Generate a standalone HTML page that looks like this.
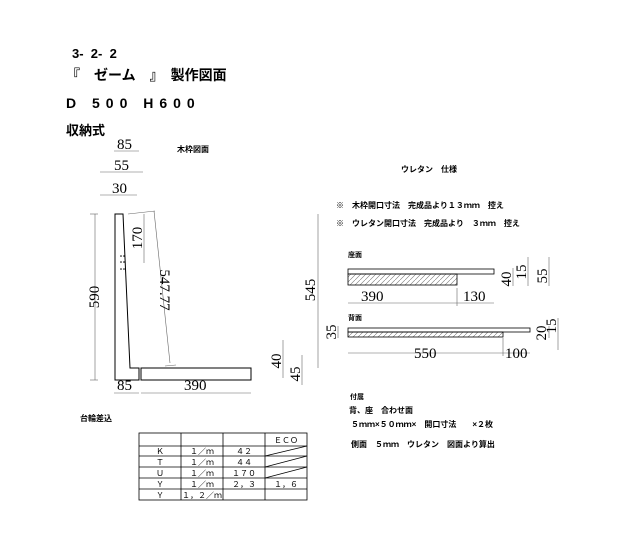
<!DOCTYPE html>
<html><head><meta charset="utf-8"><style>
html,body{margin:0;padding:0;background:#fff;}
svg{display:block;}
.j{font-family:"Liberation Sans","Noto Sans CJK JP",sans-serif;fill:#000;}
.d{font-family:"Liberation Serif",serif;font-size:15px;fill:#000;}
</style></head><body>
<svg width="640" height="553" viewBox="0 0 640 553" xmlns="http://www.w3.org/2000/svg">
<defs><pattern id="h" width="5" height="5" patternUnits="userSpaceOnUse"><path d="M0 5 L5 0" stroke="#777" stroke-width="0.6"/></pattern></defs>
<g class="j" font-weight="bold">
<text x="72" y="58" font-size="13" xml:space="preserve">3-  2-  2</text>
<text x="66" y="80" font-size="14">『　ゼーム　』　製作図面</text>
<text x="66" y="108" font-size="14" letter-spacing="6">D 500 H600</text>
<text x="66" y="135" font-size="13">収納式</text>
<text x="177" y="152" font-size="8">木枠図面</text>
<text x="401" y="172" font-size="8">ウレタン　仕様</text>
<text x="336" y="208" font-size="8">※　木枠開口寸法　完成品より１３ｍｍ　控え</text>
<text x="336" y="226" font-size="8">※　ウレタン開口寸法　完成品より　３ｍｍ　控え</text>
<text x="348" y="257" font-size="7">座面</text>
<text x="348" y="320" font-size="7">背面</text>
<text x="80" y="421" font-size="8">台輪差込</text>
<text x="350" y="399" font-size="7">付属</text>
<text x="349" y="413" font-size="8">背、座　合わせ面</text>
<text x="351" y="427" font-size="8">５ｍｍ×５０ｍｍ×　開口寸法　　×２枚</text>
<text x="351" y="447" font-size="8">側面　５ｍｍ　ウレタン　図面より算出</text>
</g>
<g fill="none" stroke="#000" stroke-width="1">
<path d="M115 214 L123 214 L130 368 L139 368 L139 380 L115 380 Z"/>
<rect x="141" y="368" width="110" height="12"/>
</g>
<g stroke="#666" stroke-width="0.6" fill="none">
<line x1="95" y1="214" x2="95" y2="380"/><line x1="90" y1="214" x2="98" y2="214"/><line x1="90" y1="380" x2="98" y2="380"/>
<line x1="114" y1="151" x2="139" y2="151"/>
<line x1="100" y1="172" x2="143" y2="172"/>
<line x1="100" y1="195" x2="137" y2="195"/>
<line x1="144" y1="214" x2="144" y2="263"/>
<line x1="128" y1="214" x2="155" y2="211"/>
<line x1="154" y1="211" x2="170" y2="363"/>
<line x1="165" y1="366" x2="176" y2="365"/>
<line x1="114" y1="393" x2="139" y2="393"/><line x1="141" y1="393" x2="251" y2="393"/>
<line x1="318" y1="214" x2="318" y2="368"/>
<line x1="283" y1="340" x2="283" y2="378"/>
<line x1="302" y1="355" x2="302" y2="385"/>
<line x1="348" y1="303" x2="494" y2="303"/><line x1="457" y1="288" x2="457" y2="306"/>
<line x1="513" y1="268" x2="513" y2="286"/><line x1="528" y1="257" x2="528" y2="286"/><line x1="549" y1="257" x2="549" y2="286"/>
<line x1="348" y1="353" x2="530" y2="353"/><line x1="503" y1="338" x2="503" y2="356"/>
<line x1="338" y1="326" x2="338" y2="338"/><line x1="549" y1="326" x2="549" y2="338"/><line x1="558" y1="318" x2="558" y2="350"/>
</g>
<g fill="#000">
<circle cx="121" cy="256" r="0.8"/><circle cx="124" cy="256" r="0.8"/><circle cx="121" cy="262" r="0.8"/><circle cx="124" cy="262" r="0.8"/><circle cx="121" cy="269" r="0.8"/><circle cx="124" cy="269" r="0.8"/>
</g>
<g class="d">
<text x="117" y="149">85</text>
<text x="114" y="170">55</text>
<text x="112" y="193">30</text>
<text x="117" y="390">85</text>
<text x="184" y="390">390</text>
<text x="361" y="301">390</text>
<text x="463" y="301">130</text>
<text x="414" y="358">550</text>
<text x="505" y="358">100</text>
<text transform="translate(99,297) rotate(-90)" text-anchor="middle">590</text>
<text transform="translate(142,238) rotate(-90)" text-anchor="middle">170</text>
<text transform="translate(160,290) rotate(90)" text-anchor="middle">547.77</text>
<text transform="translate(315,290) rotate(-90)" text-anchor="middle">545</text>
<text transform="translate(281,361) rotate(-90)" text-anchor="middle">40</text>
<text transform="translate(300,374) rotate(-90)" text-anchor="middle">45</text>
<text transform="translate(511,279) rotate(-90)" text-anchor="middle">40</text>
<text transform="translate(526,272) rotate(-90)" text-anchor="middle">15</text>
<text transform="translate(547,276) rotate(-90)" text-anchor="middle">55</text>
<text transform="translate(336,332) rotate(-90)" text-anchor="middle">35</text>
<text transform="translate(546,333) rotate(-90)" text-anchor="middle">20</text>
<text transform="translate(556,326) rotate(-90)" text-anchor="middle">15</text>
</g>
<g stroke="#000" stroke-width="0.8">
<rect x="348" y="269" width="146" height="5" fill="none"/>
<rect x="348" y="274" width="109" height="11" fill="url(#h)"/>
<rect x="348" y="328" width="182" height="4" fill="none"/>
<rect x="348" y="332" width="155" height="5" fill="url(#h)"/>
</g>
<g stroke="#000" stroke-width="0.8" fill="none">
<rect x="139" y="433" width="168" height="67"/>
<line x1="139" y1="446" x2="307" y2="446"/><line x1="139" y1="456" x2="307" y2="456"/><line x1="139" y1="467" x2="307" y2="467"/><line x1="139" y1="478" x2="307" y2="478"/><line x1="139" y1="489" x2="307" y2="489"/>
<line x1="181" y1="433" x2="181" y2="500"/><line x1="223" y1="433" x2="223" y2="500"/><line x1="265" y1="433" x2="265" y2="500"/>
<line x1="265" y1="456" x2="307" y2="446"/><line x1="265" y1="467" x2="307" y2="456"/><line x1="265" y1="478" x2="307" y2="467"/>
</g>
<g class="j" font-size="8" text-anchor="middle">
<text x="286" y="443">ＥＣＯ</text>
<text x="160" y="454">Ｋ</text><text x="202" y="454">１／ｍ</text><text x="244" y="454">４２</text>
<text x="160" y="465">Ｔ</text><text x="202" y="465">１／ｍ</text><text x="244" y="465">４４</text>
<text x="160" y="476">Ｕ</text><text x="202" y="476">１／ｍ</text><text x="244" y="476">１７０</text>
<text x="160" y="487">Ｙ</text><text x="202" y="487">１／ｍ</text><text x="244" y="487">２，３</text><text x="286" y="487">１，６</text>
<text x="160" y="498">Ｙ</text><text x="202" y="498">１，２／ｍ</text>
</g>
</svg>
</body></html>
